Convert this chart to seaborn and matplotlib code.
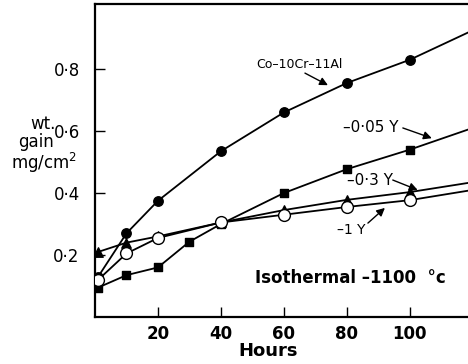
import matplotlib
matplotlib.use("Agg")
import matplotlib.pyplot as plt
import seaborn as sns
import pandas as pd

# ---- data ----
hours_a = [1, 10, 20, 40, 60, 80, 100]
co_base = [0.13, 0.27, 0.375, 0.535, 0.66, 0.755, 0.83]
hours_b = [1, 10, 20, 30, 40, 60, 80, 100]
y005 = [0.095, 0.135, 0.16, 0.243, 0.30, 0.40, 0.477, 0.54]
y03 = [0.21, 0.24, 0.26, 0.305, 0.345, 0.378, 0.403]
y1 = [0.12, 0.205, 0.255, 0.305, 0.33, 0.355, 0.377]
# curve values at the right edge of the plot (lines continue past last point)
edge_hour = 120
edge_vals = {"co": 0.925, "y005": 0.61, "y03": 0.435, "y1": 0.41}

xticks = [20, 40, 60, 80, 100]
yticks = [0.2, 0.4, 0.6, 0.8]
ytick_labels = ["0·2", "0·4", "0·6", "0·8"]

sns.set_style("white")
plt.rcParams["font.family"] = ["DejaVu Sans"]
plt.rcParams["text.color"] = "black"
plt.rcParams["xtick.color"] = "black"
plt.rcParams["ytick.color"] = "black"

fig = plt.figure(figsize=(4.68, 3.64), dpi=100)
ax = fig.add_axes([95 / 468, 47 / 364, 1 - 95 / 468, (317 - 4) / 364])

series = [
    ("co", hours_a, co_base, "o", "black", 6.8),
    ("y005", hours_b, y005, "s", "black", 6.3),
    ("y03", hours_a, y03, "^", "black", 6.8),
    ("y1", hours_a, y1, "o", "white", 8.5),
]

for key, hx, hy, mk, fc, ms in series:
    line_df = pd.DataFrame({"h": list(hx) + [edge_hour], "v": list(hy) + [edge_vals[key]]})
    sns.lineplot(data=line_df, x="h", y="v", ax=ax, color="black", lw=1.3,
                 sort=True, estimator=None, zorder=2)
for key, hx, hy, mk, fc, ms in series:
    pts = pd.DataFrame({"h": hx, "v": hy})
    sns.scatterplot(data=pts, x="h", y="v", ax=ax, marker=mk, s=ms ** 2,
                    color=fc, edgecolor="black", linewidth=1.0, zorder=3)

ax.set_xlim(0, 118.5)
ax.set_ylim(0, 1.01)
ax.set_xticks(xticks)
ax.set_xticklabels([str(t) for t in xticks], fontsize=12, fontweight="bold")
ax.set_yticks(yticks)
ax.set_yticklabels(ytick_labels, fontsize=12)
ax.tick_params(direction="in", length=7, width=1.0, color="black", labelcolor="black",
               bottom=True, left=True, top=False, right=False)
ax.tick_params(axis="x", pad=6)
ax.tick_params(axis="y", pad=11)
ax.set_xlabel("")
ax.set_ylabel("")
for s in ["left", "bottom", "top"]:
    ax.spines[s].set_visible(True)
    ax.spines[s].set_color("black")
    ax.spines[s].set_linewidth(1.6)
ax.spines["right"].set_visible(False)

fig.text(268 / 468, 1 - 351 / 364, "Hours", ha="center", va="center",
         fontsize=13, fontweight="bold")
fig.text(56 / 468, 1 - 124 / 364, "wt.", ha="right", va="center", fontsize=12)
fig.text(36 / 468, 1 - 142 / 364, "gain", ha="center", va="center", fontsize=12)
fig.text(44 / 468, 1 - 163 / 364, "mg/cm$^2$", ha="center", va="center", fontsize=12)

fig.text(350 / 468, 1 - 278 / 364, "Isothermal \u20131100  \u00b0c", ha="center",
         va="center", fontsize=12, fontweight="bold")

arrow = dict(arrowstyle="-|>", color="black", lw=1.0, mutation_scale=12,
             shrinkA=0, shrinkB=0)

ax.text(64.8, 0.816, "Co\u201310Cr\u201311Al", fontsize=9, ha="center", va="center")
ax.annotate("", xy=(74, 0.748), xytext=(66.7, 0.787), arrowprops=arrow)

ax.text(87.6, 0.613, "\u20130·05 Y", fontsize=11, ha="center", va="center")
ax.annotate("", xy=(107, 0.577), xytext=(97.8, 0.61), arrowprops=arrow)

ax.text(87.3, 0.439, "\u20130·3 Y", fontsize=11, ha="center", va="center")
ax.annotate("", xy=(102.5, 0.41), xytext=(94.6, 0.442), arrowprops=arrow)

ax.text(81.3, 0.281, "\u20131 Y", fontsize=10, ha="center", va="center")
ax.annotate("", xy=(92.1, 0.352), xytext=(86.7, 0.303), arrowprops=arrow)

fig.savefig("out.png", dpi=100)
